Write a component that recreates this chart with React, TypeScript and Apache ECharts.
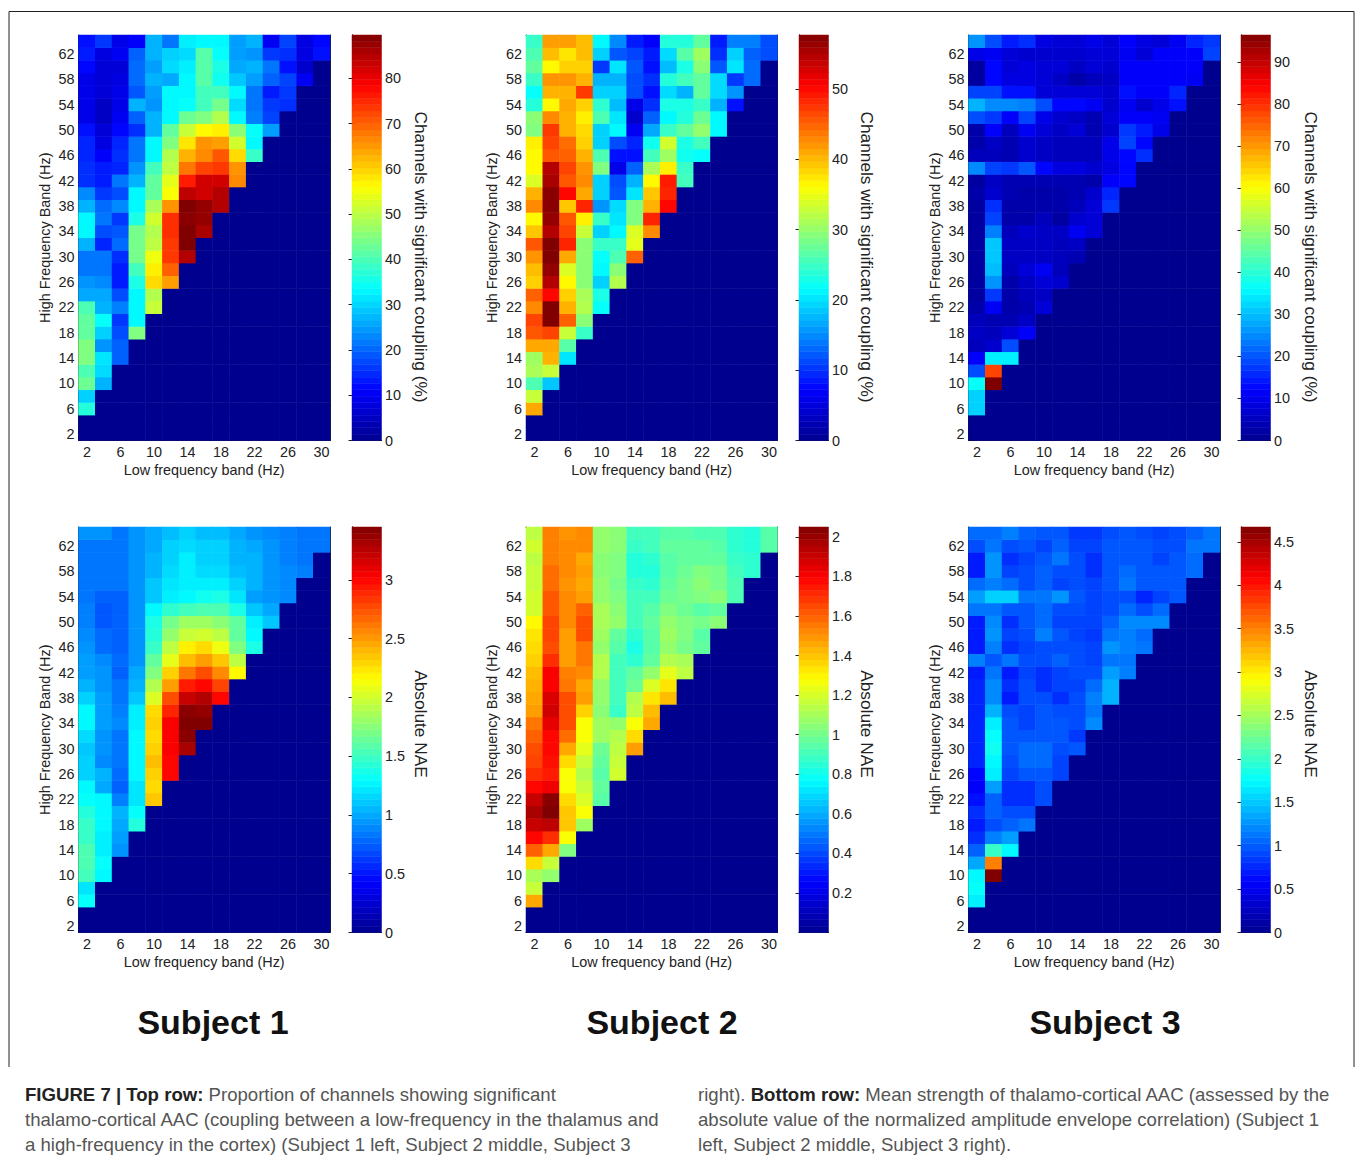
import React, { useEffect, useRef } from "react";
import * as echarts from "echarts";

const lowBands = [2, 4, 6, 8, 10, 12, 14, 16, 18, 20, 22, 24, 26, 28, 30];
const highBands = [2, 4, 6, 8, 10, 12, 14, 16, 18, 20, 22, 24, 26, 28, 30, 32, 34, 36, 38, 40, 42, 44, 46, 48, 50, 52, 54, 56, 58, 60, 62, 64];

// Each row starts at 2 Hz low band; rows run from 64 Hz down to 6 Hz. Values are % of the panel's colour scale.
const s1Coupling = [
  [14, 18, 10, 12, 30, 24, 36, 37, 37, 28, 30, 11, 19, 9, 13],
  [15, 9, 11, 22, 30, 33, 34, 46, 38, 28, 27, 18, 17, 9, 14],
  [13, 8, 8, 23, 28, 34, 36, 46, 40, 29, 30, 24, 14, 7],
  [10, 8, 9, 23, 30, 29, 37, 46, 39, 32, 28, 22, 19, 11],
  [10, 8, 10, 21, 28, 37, 37, 44, 44, 37, 24, 15, 18],
  [10, 6, 10, 30, 27, 37, 38, 44, 49, 34, 24, 18, 17],
  [10, 6, 11, 22, 30, 37, 48, 50, 55, 37, 25, 19],
  [14, 8, 13, 17, 30, 47, 57, 63, 64, 51, 38, 28],
  [16, 9, 16, 24, 37, 50, 65, 73, 72, 58, 37],
  [16, 12, 17, 24, 37, 55, 70, 74, 79, 66, 43],
  [17, 15, 16, 27, 44, 56, 76, 81, 82, 73],
  [17, 15, 24, 30, 47, 60, 85, 92, 92, 74],
  [26, 18, 20, 37, 47, 62, 94, 92, 95],
  [30, 23, 26, 37, 54, 73, 100, 98, 95],
  [37, 24, 18, 40, 58, 83, 99, 98],
  [37, 20, 21, 49, 55, 83, 100, 96],
  [30, 16, 23, 49, 56, 82, 100],
  [24, 24, 17, 49, 61, 82, 95],
  [24, 24, 15, 44, 64, 78],
  [27, 26, 15, 40, 66, 72],
  [29, 29, 20, 37, 55],
  [45, 30, 25, 37, 57],
  [47, 38, 18, 37],
  [47, 33, 20, 50],
  [50, 27, 22],
  [50, 35, 22],
  [45, 34],
  [48, 30],
  [33],
  [41],
];
const s2Coupling = [
  [43, 72, 72, 69, 37, 26, 15, 12, 41, 41, 47, 15, 25, 25, 20],
  [45, 69, 65, 69, 33, 21, 19, 15, 34, 46, 53, 17, 33, 22, 20],
  [47, 63, 67, 67, 18, 35, 21, 14, 31, 40, 51, 21, 35, 23],
  [43, 73, 73, 70, 30, 30, 20, 17, 41, 44, 47, 34, 18, 23],
  [38, 70, 70, 82, 33, 33, 20, 14, 34, 30, 47, 34, 27],
  [41, 63, 71, 67, 42, 31, 10, 17, 40, 40, 43, 30, 14],
  [51, 74, 70, 64, 45, 35, 7, 22, 37, 41, 48, 37],
  [50, 82, 70, 66, 33, 37, 11, 29, 43, 47, 52, 37],
  [64, 81, 77, 67, 33, 20, 16, 39, 58, 40, 44],
  [63, 79, 78, 70, 45, 14, 14, 44, 53, 39, 38],
  [63, 95, 81, 73, 50, 10, 22, 54, 64, 43],
  [59, 96, 79, 74, 33, 20, 30, 63, 85, 44],
  [70, 99, 87, 71, 33, 21, 35, 68, 84],
  [74, 99, 68, 84, 27, 34, 50, 70, 87],
  [63, 98, 79, 64, 43, 35, 50, 84],
  [68, 95, 81, 57, 33, 37, 59, 74],
  [79, 100, 84, 51, 43, 43, 60],
  [73, 100, 71, 51, 38, 45, 78],
  [69, 98, 59, 51, 37, 51],
  [67, 95, 63, 51, 33, 55],
  [78, 87, 67, 54, 40],
  [74, 100, 70, 55, 38],
  [81, 100, 78, 51],
  [79, 81, 57, 43],
  [71, 71, 46],
  [53, 70, 35],
  [54, 57],
  [45, 32],
  [57],
  [71],
];
const s3Coupling = [
  [27, 20, 15, 17, 9, 8, 8, 10, 8, 12, 9, 8, 11, 16, 18],
  [10, 11, 8, 7, 7, 7, 7, 8, 8, 11, 8, 12, 12, 12, 19],
  [2, 13, 8, 9, 8, 8, 6, 8, 7, 12, 12, 12, 12, 12],
  [2, 13, 9, 9, 8, 6, 3, 5, 6, 12, 12, 12, 12, 11],
  [19, 19, 14, 14, 8, 8, 8, 8, 7, 14, 12, 12, 16],
  [30, 26, 26, 25, 20, 13, 13, 11, 7, 11, 7, 10, 14],
  [20, 18, 12, 19, 10, 7, 6, 4, 8, 12, 12, 11],
  [3, 12, 5, 11, 8, 6, 8, 4, 7, 18, 15, 10],
  [3, 6, 4, 7, 6, 5, 5, 5, 10, 19, 13],
  [5, 5, 4, 7, 6, 5, 5, 5, 10, 13, 17],
  [26, 19, 18, 21, 13, 9, 9, 7, 9, 13],
  [2, 6, 4, 4, 4, 4, 4, 3, 12, 13],
  [3, 7, 4, 3, 3, 3, 4, 7, 16],
  [2, 17, 3, 3, 3, 3, 5, 8, 18],
  [2, 19, 3, 3, 5, 2, 7, 8],
  [2, 25, 5, 7, 6, 6, 11, 8],
  [2, 32, 6, 6, 6, 5, 6],
  [2, 32, 6, 6, 6, 5, 4],
  [2, 31, 5, 8, 11, 5],
  [2, 27, 3, 6, 8, 7],
  [2, 18, 3, 5, 6],
  [3, 11, 3, 4, 8],
  [5, 4, 4, 6],
  [6, 5, 8, 12],
  [5, 7, 20],
  [12, 36, 36],
  [20, 81],
  [38, 100],
  [33],
  [33],
];
const s1Nae = [
  [27, 27, 24, 27, 29, 31, 33, 31, 31, 29, 27, 26, 25, 24, 24],
  [24, 24, 24, 27, 29, 33, 34, 33, 33, 30, 29, 27, 25, 24, 24],
  [24, 24, 24, 27, 30, 33, 36, 33, 33, 30, 30, 27, 25, 24],
  [24, 24, 24, 27, 30, 34, 36, 34, 34, 31, 30, 27, 26, 25],
  [24, 24, 24, 27, 32, 35, 36, 36, 36, 33, 30, 27, 26],
  [24, 22, 22, 27, 32, 36, 37, 39, 40, 35, 28, 27, 26],
  [25, 21, 22, 27, 37, 42, 44, 45, 45, 40, 32, 29],
  [25, 21, 22, 27, 40, 49, 53, 53, 51, 47, 36, 32],
  [26, 23, 22, 27, 41, 52, 57, 58, 56, 47, 37],
  [27, 23, 22, 27, 43, 56, 64, 66, 61, 50, 40],
  [28, 26, 23, 27, 47, 60, 69, 72, 68, 56],
  [28, 27, 22, 29, 50, 67, 76, 80, 74, 63],
  [30, 27, 24, 30, 55, 72, 85, 87, 81],
  [33, 28, 24, 32, 59, 80, 93, 95, 87],
  [37, 28, 25, 36, 66, 84, 99, 98],
  [37, 28, 26, 36, 67, 88, 100, 100],
  [34, 27, 24, 37, 66, 88, 99],
  [32, 27, 24, 37, 67, 88, 96],
  [33, 26, 24, 37, 69, 87],
  [33, 30, 23, 37, 67, 87],
  [37, 29, 22, 35, 66],
  [38, 37, 25, 35, 68],
  [41, 37, 30, 38],
  [43, 37, 29, 41],
  [43, 36, 28],
  [45, 36, 27],
  [45, 38],
  [44, 37],
  [35],
  [38],
];
const s2Nae = [
  [56, 75, 73, 74, 52, 51, 44, 44, 46, 46, 45, 45, 42, 41, 46],
  [58, 75, 74, 74, 52, 51, 43, 44, 47, 47, 47, 46, 42, 41, 46],
  [56, 75, 74, 71, 51, 50, 41, 42, 46, 47, 47, 47, 43, 42],
  [57, 77, 74, 72, 51, 50, 41, 41, 46, 48, 50, 49, 44, 42],
  [57, 77, 73, 71, 52, 49, 43, 42, 47, 49, 51, 49, 45],
  [58, 79, 74, 72, 52, 50, 44, 44, 48, 49, 50, 51, 45],
  [58, 79, 74, 78, 54, 51, 44, 46, 50, 48, 46, 47],
  [63, 81, 74, 80, 54, 52, 44, 47, 52, 50, 49, 51],
  [65, 81, 72, 80, 53, 47, 42, 46, 53, 50, 46],
  [66, 80, 72, 76, 52, 46, 40, 46, 52, 49, 47],
  [67, 83, 72, 76, 55, 44, 42, 47, 55, 54],
  [69, 88, 75, 74, 55, 44, 47, 52, 60, 56],
  [70, 88, 76, 71, 52, 44, 48, 59, 65],
  [71, 91, 80, 72, 52, 44, 55, 65, 69],
  [72, 92, 80, 67, 51, 43, 56, 69],
  [76, 90, 80, 62, 53, 52, 62, 71],
  [78, 87, 77, 62, 53, 55, 66],
  [80, 87, 71, 60, 48, 56, 72],
  [81, 86, 66, 57, 47, 57],
  [83, 85, 62, 55, 46, 58],
  [87, 89, 62, 57, 47],
  [93, 99, 66, 59, 46],
  [96, 100, 68, 62],
  [93, 94, 68, 53],
  [87, 83, 62],
  [78, 71, 50],
  [66, 57],
  [54, 52],
  [57],
  [71],
];
const s3Nae = [
  [23, 23, 25, 22, 21, 21, 18, 18, 20, 21, 20, 19, 20, 22, 24],
  [20, 24, 20, 21, 19, 22, 19, 19, 21, 21, 21, 20, 20, 24, 24],
  [15, 27, 17, 19, 21, 24, 20, 17, 21, 21, 21, 19, 21, 23],
  [15, 27, 19, 20, 22, 20, 20, 17, 21, 23, 21, 21, 21, 23],
  [23, 25, 23, 20, 22, 19, 20, 19, 21, 24, 21, 21, 21],
  [28, 33, 33, 24, 24, 27, 21, 19, 20, 20, 16, 19, 21],
  [24, 24, 21, 21, 23, 20, 20, 19, 20, 23, 20, 23],
  [15, 26, 17, 21, 23, 19, 19, 19, 22, 26, 26, 26],
  [15, 27, 19, 20, 25, 21, 19, 18, 24, 25, 23],
  [15, 25, 17, 19, 20, 20, 20, 19, 27, 25, 24],
  [25, 21, 24, 20, 20, 22, 20, 19, 24, 24],
  [15, 24, 15, 19, 17, 19, 20, 20, 28, 25],
  [16, 26, 17, 20, 17, 19, 19, 23, 30],
  [16, 26, 15, 20, 20, 17, 20, 25, 30],
  [16, 30, 20, 19, 21, 20, 20, 24],
  [16, 36, 21, 19, 21, 21, 20, 26],
  [16, 38, 21, 21, 21, 21, 18],
  [16, 39, 21, 23, 23, 20, 21],
  [16, 37, 20, 23, 23, 19],
  [13, 36, 19, 21, 21, 19],
  [12, 28, 17, 17, 20],
  [14, 22, 17, 17, 20],
  [17, 22, 20, 20],
  [15, 20, 22, 24],
  [17, 25, 28],
  [22, 43, 37],
  [29, 75],
  [37, 100],
  [38],
  [36],
];

const subjects = ["Subject 1", "Subject 2", "Subject 3"];
const colorbarTitles = ["Channels with significant coupling (%)", "Absolute NAE"];
const captionLeft = [
  "{b|FIGURE 7 | Top row:} Proportion of channels showing significant",
  "thalamo-cortical AAC (coupling between a low-frequency in the thalamus and",
  "a high-frequency in the cortex) (Subject 1 left, Subject 2 middle, Subject 3",
];
const captionRight = [
  "right). {b|Bottom row:} Mean strength of thalamo-cortical AAC (assessed by the",
  "absolute value of the normalized amplitude envelope correlation) (Subject 1",
  "left, Subject 2 middle, Subject 3 right).",
];
const jet = ["#00008f", "#0000ff", "#0080ff", "#00ffff", "#80ff80", "#ffff00", "#ff8000", "#ff0000", "#800000"];

const FONT = '"Liberation Sans", Arial, sans-serif';
const INK = "#222";
const TICK = 14.4;
const CAPTION = 18.6;

const panels = [
  { rows: s1Coupling, max: 89.6, interval: 10, col: 0, row: 0, hideZero: false },
  { rows: s2Coupling, max: 57.7, interval: 10, col: 1, row: 0, hideZero: false },
  { rows: s3Coupling, max: 96.4, interval: 10, col: 2, row: 0, hideZero: false },
  { rows: s1Nae, max: 3.45, interval: 0.5, col: 0, row: 1, hideZero: false },
  { rows: s2Nae, max: 2.05, interval: 0.2, col: 1, row: 1, hideZero: true },
  { rows: s3Nae, max: 4.67, interval: 0.5, col: 2, row: 1, hideZero: false },
];
const colLeft = [78.5, 526, 968.5];
const colWidth = [251.5, 251.5, 251.5];
const barLeft = [352, 799, 1241];
const barWidth = 29.5;
const rowTop = [35, 527];
const rowHeight = 405.5;
const titleX = [421, 867, 1311];
const titleY = [257, 724];

function buildOption() {
  const grid: any[] = [];
  const xAxis: any[] = [];
  const yAxis: any[] = [];
  const line = { show: true, lineStyle: { color: INK, width: 1 } };
  const inTick = { show: true, inside: true, length: 3.5, lineStyle: { color: INK, width: 1 } };
  const heat: any[] = [];
  const bars: any[] = [];
  const visualMap: any[] = [];

  panels.forEach((p, i) => {
    const top = rowTop[p.row];
    const g = grid.length;
    grid.push({ left: colLeft[p.col], top, width: colWidth[p.col], height: rowHeight });
    const gb = grid.length;
    grid.push({ left: barLeft[p.col], top, width: barWidth, height: rowHeight });

    const xMain = xAxis.length;
    const catTick = { ...inTick, alignWithLabel: true, interval: 1 };
    xAxis.push({
      gridIndex: g, type: "category", position: "bottom", data: lowBands, axisLine: line, axisTick: catTick,
      axisLabel: { interval: 1, fontFamily: FONT, fontSize: TICK, color: INK, margin: 4.5 },
      name: "Low frequency band (Hz)", nameLocation: "middle", nameGap: 22,
      nameTextStyle: { fontFamily: FONT, fontSize: TICK, color: INK },
    });
    xAxis.push({ gridIndex: g, type: "category", position: "top", data: lowBands, axisLine: line, axisTick: catTick, axisLabel: { show: false } });
    const yMain = yAxis.length;
    yAxis.push({
      gridIndex: g, type: "category", position: "left", data: highBands, axisLine: line, axisTick: catTick,
      axisLabel: { interval: 1, fontFamily: FONT, fontSize: TICK, color: INK, margin: 4 },
      name: "High Frequency Band (Hz)", nameLocation: "middle", nameGap: 27, nameRotate: 90,
      nameTextStyle: { fontFamily: FONT, fontSize: TICK, color: INK },
    });
    yAxis.push({ gridIndex: g, type: "category", position: "right", data: highBands, axisLine: line, axisTick: catTick, axisLabel: { show: false } });

    const xBar = xAxis.length;
    xAxis.push({ gridIndex: gb, type: "value", min: 0, max: 1, position: "bottom", axisLine: line, axisTick: { show: false }, axisLabel: { show: false }, splitLine: { show: false } });
    xAxis.push({ gridIndex: gb, type: "value", min: 0, max: 1, position: "top", axisLine: line, axisTick: { show: false }, axisLabel: { show: false }, splitLine: { show: false } });
    const yBar = yAxis.length;
    const barAxis = { gridIndex: gb, type: "value", min: 0, max: p.max, interval: p.interval, axisLine: line, axisTick: inTick, splitLine: { show: false } };
    yAxis.push({
      ...barAxis, position: "right",
      axisLabel: { fontFamily: FONT, fontSize: TICK, color: INK, margin: 3.5, showMaxLabel: false, showMinLabel: !p.hideZero, hideOverlap: false },
    });
    yAxis.push({ ...barAxis, position: "left", axisLabel: { show: false } });

    const cells: number[][] = [];
    highBands.forEach((_, yi) => lowBands.forEach((__, xi) => {
      const r = p.rows[highBands.length - 1 - yi];
      const level = r && xi < r.length ? r[xi] : 0;
      cells.push([xi, yi, (level / 100) * p.max]);
    }));
    heat.push({
      type: "heatmap", xAxisIndex: xMain, yAxisIndex: yMain, data: cells, silent: true, progressive: 0,
      emphasis: { disabled: true },
    });
    visualMap.push({ type: "continuous", show: false, seriesIndex: i, min: 0, max: p.max, inRange: { color: jet } });

    const steps: number[][] = [];
    for (let s = 0; s < 64; s++) steps.push([(s / 64) * p.max, ((s + 1) / 64) * p.max, (s + 0.5) / 64]);
    bars.push({
      type: "custom", xAxisIndex: xBar, yAxisIndex: yBar, data: steps, silent: true, clip: false,
      encode: { y: [0, 1] },
      renderItem: (_: any, api: any) => {
        const a = api.coord([0, api.value(0)]);
        const b = api.coord([1, api.value(1)]);
        const fill = echarts.color.lerp(api.value(2), jet);
        return { type: "rect", shape: { x: a[0], y: b[1], width: b[0] - a[0], height: a[1] - b[1] }, style: { fill, stroke: fill, lineWidth: 0.5 } };
      },
    });
  });

  const txt = (text: string, x: number, y: number, extra: any, rotation = 0) => ({
    type: "text", x, y, rotation, silent: true,
    style: { text, fontFamily: FONT, fill: INK, ...extra },
  });
  const graphic: any[] = [
    { type: "line", shape: { x1: 9, y1: 11.5, x2: 1354, y2: 11.5 }, style: { stroke: "#222", lineWidth: 1 } },
    { type: "line", shape: { x1: 9, y1: 11.5, x2: 9, y2: 1067 }, style: { stroke: "#222", lineWidth: 1 } },
    { type: "line", shape: { x1: 1354, y1: 11.5, x2: 1354, y2: 1067 }, style: { stroke: "#222", lineWidth: 1 } },
  ];
  [0, 1, 2].forEach((c) => {
    [0, 1].forEach((r) => {
      graphic.push(txt(colorbarTitles[r], titleX[c], titleY[r], { fontSize: 17.3, align: "center", verticalAlign: "middle" }, -Math.PI / 2));
    });
  });
  const subjectX = [213, 662, 1105];
  subjects.forEach((s, i) => {
    graphic.push(txt(s, subjectX[i], 1022, { fontSize: 34, fontWeight: "bold", fill: "#111", align: "center", verticalAlign: "middle" }));
  });
  const rich = { b: { fontFamily: FONT, fontSize: CAPTION, fontWeight: "bold", fill: "#222" } };
  [captionLeft, captionRight].forEach((lines, c) => {
    lines.forEach((l, i) => {
      graphic.push(txt(l, c === 0 ? 25 : 698, 1094 + i * 25, { fontSize: CAPTION, fill: "#555", align: "left", verticalAlign: "middle", rich }));
    });
  });

  return {
    animation: false,
    backgroundColor: "#fff",
    grid, xAxis, yAxis, visualMap,
    series: [...heat, ...bars],
    graphic,
  };
}

export default function App() {
  const ref = useRef<HTMLDivElement>(null);
  useEffect(() => {
    const chart = echarts.init(ref.current!, undefined, { renderer: "svg" });
    chart.setOption(buildOption());
    return () => chart.dispose();
  }, []);
  return <div ref={ref} style={{ position: "absolute", left: 0, top: 0, width: 1356, height: 1157 }} />;
}
